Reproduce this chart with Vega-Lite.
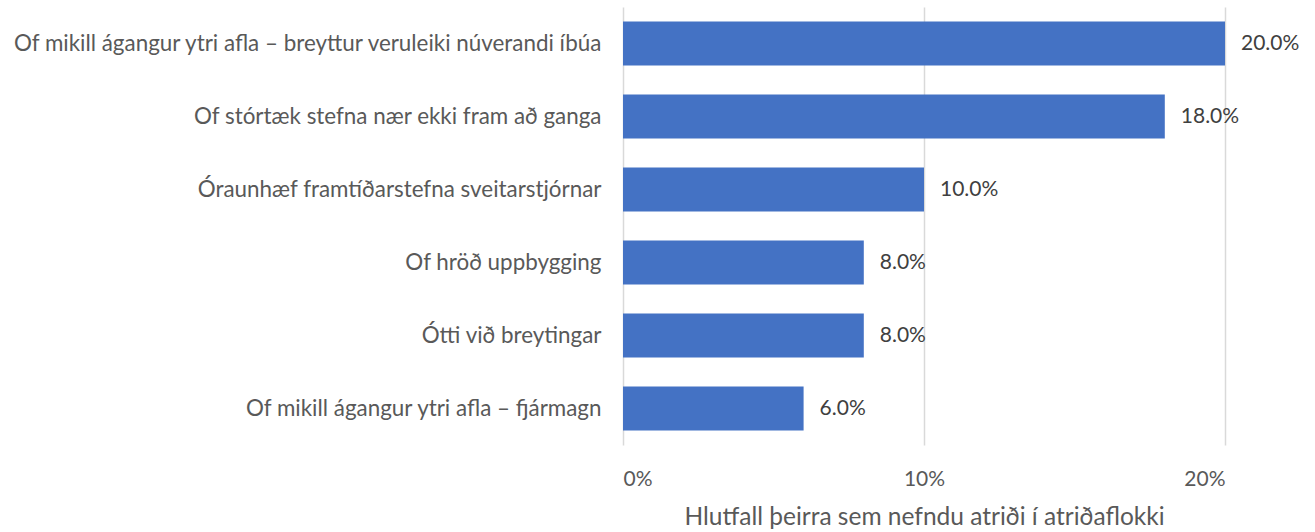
{
  "$schema": "https://vega.github.io/schema/vega-lite/v6.json",
  "width": 602,
  "height": 438,
  "autosize": {"type": "none"},
  "padding": {"left": 623, "top": 7, "right": 90, "bottom": 87},
  "background": "white",
  "config": {"view": {"stroke": null}, "font": "Lato"},
  "data": {"values": [
    {"atridi": "Of mikill ágangur ytri afla – breyttur veruleiki núverandi íbúa", "hlutfall": 0.20},
    {"atridi": "Of stórtæk stefna nær ekki fram að ganga", "hlutfall": 0.18},
    {"atridi": "Óraunhæf framtíðarstefna sveitarstjórnar", "hlutfall": 0.10},
    {"atridi": "Of hröð uppbygging", "hlutfall": 0.08},
    {"atridi": "Ótti við breytingar", "hlutfall": 0.08},
    {"atridi": "Of mikill ágangur ytri afla – fjármagn", "hlutfall": 0.06}
  ]},
  "encoding": {
    "y": {"field": "atridi", "type": "nominal", "sort": null,
      "scale": {"paddingInner": 0.4, "paddingOuter": 0.2},
      "axis": {"title": null, "domain": false, "ticks": false, "labelFontSize": 22.4, "labelColor": "#595959", "labelPadding": 22, "labelLimit": 700}},
    "x": {"field": "hlutfall", "type": "quantitative",
      "scale": {"domain": [0, 0.2], "nice": false},
      "axis": {"format": ".0%", "values": [0, 0.1, 0.2], "title": "Hlutfall þeirra sem nefndu atriði í atriðaflokki",
        "titleFontSize": 24.5, "titleFontWeight": "normal", "titleColor": "#595959", "titlePadding": 16,
        "labelFontSize": 21, "labelColor": "#595959", "labelPadding": 23,
        "domain": false, "ticks": false, "grid": true, "gridColor": "#d9d9d9", "gridWidth": 1.5}}
  },
  "layer": [
    {"mark": {"type": "bar", "color": "#4472C4"}},
    {"mark": {"type": "text", "align": "left", "dx": 16, "fontSize": 21, "color": "#404040"},
     "encoding": {"text": {"field": "hlutfall", "type": "quantitative", "format": ".1%"}}}
  ]
}
